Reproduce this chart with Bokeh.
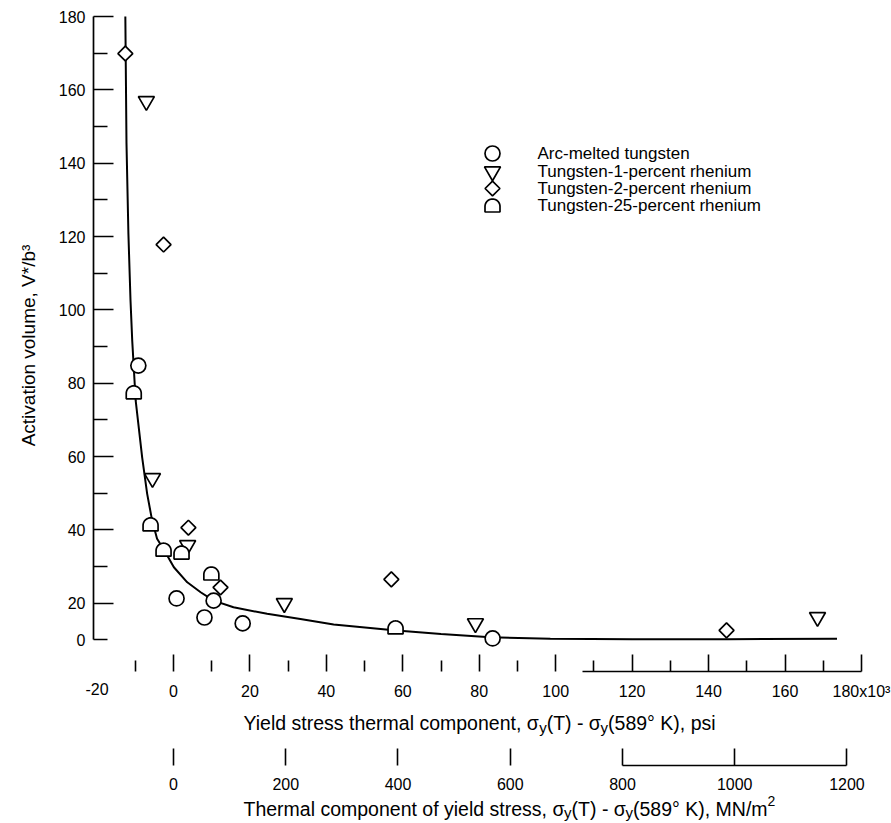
import numpy as np
from bokeh.plotting import figure
from bokeh.models import LinearAxis, Range1d, FixedTicker
from bokeh.core.properties import value
from bokeh.embed import file_html
from bokeh.resources import INLINE

# ---------------- data ----------------
fit_x = [-12.6, -12.3, -11.8, -11.25, -10.8, -9.9, -8.2, -6.9, -5.6, -4.3, -2.5, 0.1,
         3.6, 7.1, 10.5, 15.7, 24.5, 33.2, 41.9, 57.6, 70.0, 82.9, 98.6, 120.0, 145.0, 173.6]
fit_y = [180.0, 145.4, 120.8, 102.6, 91.6, 75.3, 59.8, 49.9, 42.6, 37.6, 34.6, 29.8,
         25.7, 23.0, 20.7, 18.9, 17.1, 15.7, 14.2, 12.6, 11.6, 10.7, 10.3, 10.2, 10.2, 10.3]

arc_x = [-9.2, 0.8, 8.1, 10.5, 18.1, 83.5]
arc_y = [84.8, 21.3, 16.1, 20.7, 14.5, 10.4]
w1_x = [-7.1, -5.5, 3.7, 29.0, 79.0, 168.5]
w1_y = [156.9, 54.1, 35.8, 20.0, 14.5, 16.2]
w2_x = [-12.6, -2.6, 3.9, 12.3, 57.0, 144.7]
w2_y = [169.9, 117.8, 40.6, 24.3, 26.5, 12.6]
w25_x = [-10.4, -6.0, -2.6, 2.1, 9.9, 58.1]
w25_y = [77.5, 41.5, 34.6, 33.8, 28.1, 13.4]

legend_labels = ["Arc-melted tungsten", "Tungsten-1-percent rhenium",
                 "Tungsten-2-percent rhenium", "Tungsten-25-percent rhenium"]

y_ticks = [20, 40, 60, 80, 100, 120, 140, 160, 180]
y_minor = [10, 30, 50, 70, 90, 110, 130, 150, 170]
x_ticks = [0, 20, 40, 60, 80, 100, 120, 140, 160, 180]
x_minor = [-10, 10, 30, 50, 70, 90, 110, 130, 150, 170]
mn_ticks = [0, 200, 400, 600, 800, 1000, 1200]

# ---------------- layout / style constants ----------------
W, H = 891, 823
KX = 3.822          # px per psi unit (x10^3)
KY = 3.667          # px per V*/b^3 unit
X_AT_0 = 173        # page x of psi = 0
Y_AT_180 = 16       # page y of V = 180
X0 = -X_AT_0 / KX
X1 = X0 + W / KX
Y1 = 180 + Y_AT_180 / KY
Y0 = Y1 - H / KY
MN_PER_KSI = 6.81
TICK_FONT = "Liberation Sans"
TICK_SIZE = "16px"
TEXT_FONT = "Liberation Sans"


def px2x(px):
    return X0 + px / KX


def py2y(py):
    return Y1 - py / KY


# approximate Arial / Liberation Sans advance widths (per 1000 em)
CW = {' ': 278, ',': 278, '(': 333, ')': 333, '-': 333, '/': 278, '\u00b0': 400,
      'A': 667, 'K': 667, 'M': 833, 'N': 722, 'T': 611, 'Y': 667, 'a': 556, 'c': 500,
      'd': 556, 'e': 556, 'f': 278, 'h': 556, 'i': 222, 'l': 222, 'm': 833, 'n': 556,
      'o': 556, 'p': 556, 'r': 333, 's': 500, 't': 278, 'u': 556, 'v': 500, 'y': 500,
      '\u03c3': 600}


def tw(s, size):
    return sum(CW.get(c, 556) for c in s) / 1000.0 * size


p = figure(width=W, height=H,
           x_range=Range1d(X0, X1), y_range=Range1d(Y0, Y1),
           output_backend="svg", toolbar_location=None,
           min_border=0, min_border_left=0, min_border_right=0,
           min_border_top=0, min_border_bottom=0)
p.xgrid.visible = False
p.ygrid.visible = False
p.outline_line_color = None
p.background_fill_color = "white"
p.border_fill_color = "white"
p.extra_x_ranges = {"mn": Range1d(X0 * MN_PER_KSI, X1 * MN_PER_KSI)}

Y_AX_X = px2x(93)
PSI_AX_Y = py2y(671)
MN_AX_Y = py2y(765)

NO_TICKS = dict(major_tick_in=0, major_tick_out=0, minor_tick_in=0, minor_tick_out=0)
LBL = dict(major_label_text_font=TICK_FONT, major_label_text_font_size=TICK_SIZE,
           major_label_text_color="black")

# ---- left axis (fixed at the left edge of the data area) ----
ya = p.yaxis[0]
ya.fixed_location = Y_AX_X
ya.bounds = (10, 180)
ya.ticker = FixedTicker(ticks=y_ticks, minor_ticks=y_minor)
ya.major_tick_in = 20
ya.major_tick_out = 0
ya.minor_tick_in = 14
ya.minor_tick_out = 0
ya.axis_line_width = 1.7
ya.major_tick_line_width = 1.7
ya.minor_tick_line_width = 1.7
ya.major_label_text_font = TICK_FONT
ya.major_label_text_font_size = TICK_SIZE
ya.major_label_text_color = "black"
ya.major_label_standoff = 8

# label "0" at the bottom of the left scale (no extra tick)
y0_lab = LinearAxis(fixed_location=Y_AX_X, ticker=FixedTicker(ticks=[10], minor_ticks=[]),
                    major_label_overrides={10: "0"}, axis_line_color=None,
                    major_label_standoff=8, **NO_TICKS, **LBL)
p.add_layout(y0_lab, "left")

# ---- psi axis ----
xa = p.xaxis[0]
xa.fixed_location = PSI_AX_Y
xa.ticker = FixedTicker(ticks=x_ticks, minor_ticks=x_minor)
xa.major_label_overrides = {180: "180x10\u00b3"}
xa.axis_line_color = None
xa.major_tick_in = 17
xa.major_tick_out = 0
xa.minor_tick_in = 11
xa.minor_tick_out = 0
xa.major_tick_line_width = 1.6
xa.minor_tick_line_width = 1.6
xa.major_label_text_font = TICK_FONT
xa.major_label_text_font_size = TICK_SIZE
xa.major_label_text_color = "black"
xa.major_label_standoff = 11

psi_line = LinearAxis(fixed_location=PSI_AX_Y, bounds=(107, 180),
                      ticker=FixedTicker(ticks=[], minor_ticks=[]),
                      axis_line_width=1.3, **NO_TICKS)
p.add_layout(psi_line, "below")

# "-20" end label of the psi scale (label only, no tick mark)
psi_end = LinearAxis(fixed_location=PSI_AX_Y, ticker=FixedTicker(ticks=[-20], minor_ticks=[]),
                     major_label_overrides={-20: "-20"},
                     axis_line_color=None, major_label_standoff=11, **NO_TICKS, **LBL)
p.add_layout(psi_end, "below")

mn_ax = LinearAxis(x_range_name="mn", fixed_location=MN_AX_Y,
                   ticker=FixedTicker(ticks=mn_ticks, minor_ticks=[]),
                   axis_line_color=None, major_tick_in=17, major_tick_out=0,
                   minor_tick_in=0, minor_tick_out=0, major_tick_line_width=1.6,
                   major_label_standoff=12, **LBL)
p.add_layout(mn_ax, "below")

mn_line = LinearAxis(x_range_name="mn", fixed_location=MN_AX_Y, bounds=(800, 1200),
                     ticker=FixedTicker(ticks=[], minor_ticks=[]),
                     axis_line_width=1.3, **NO_TICKS)
p.add_layout(mn_line, "below")

# ---- y-axis title (rotated text) ----
p.text(x=[px2x(28)], y=[py2y(345)], text=["Activation volume, V*/b\u00b3"],
       angle=np.pi / 2, text_font=value(TEXT_FONT), text_font_size=value("19px"),
       text_align="center", text_baseline="middle", text_color="black")


# ---- x-axis titles with subscripts ----
def draw_pieces(pieces, x_page, base_page):
    cur = x_page
    for txt, size, dy in pieces:
        p.text(x=[px2x(cur)], y=[py2y(base_page + dy)], text=[txt],
               text_font=value(TEXT_FONT), text_font_size=value(f"{size}px"),
               text_baseline="alphabetic", text_align="left", text_color="black")
        cur += tw(txt, size)


draw_pieces([("Yield stress thermal component, \u03c3", 19.5, 0), ("y", 15, 5),
             ("(T) - \u03c3", 19.5, 0), ("y", 15, 5), ("(589\u00b0 K), psi", 19.5, 0)], 243, 722)
draw_pieces([("Thermal component of yield stress, \u03c3", 19.5, 0), ("y", 15, 4),
             ("(T) - \u03c3", 19.5, 0), ("y", 15, 4), ("(589\u00b0 K), MN/m", 19.5, 0),
             ("2", 14, -8)], 243, 808)

# ---- curve ----
p.line(fit_x, fit_y, line_color="black", line_width=2)

# ---- markers ----
MK = dict(fill_color="white", line_color="black", line_width=1.7)
p.scatter(arc_x, arc_y, marker="circle", size=15, **MK)
p.scatter(w1_x, w1_y, marker="inverted_triangle", size=16, **MK)
p.scatter(w2_x, w2_y, marker="square", angle=np.pi / 4, size=10.5, **MK)

R, C, B = 7.5, 1.0, 6.5
th = np.linspace(np.pi, 0, 25)
shape_sx = np.concatenate([R * np.cos(th), [R, -R]])
shape_sy = np.concatenate([C - R * np.sin(th), [B, B]])


def dome_patches(xs, ys):
    return ([list(x + shape_sx / KX) for x in xs], [list(y - shape_sy / KY) for y in ys])


dxs, dys = dome_patches(w25_x, w25_y)
p.patches(dxs, dys, **MK)

# ---- legend (drawn manually so the dome marker can be shown) ----
LX = px2x(492)
LTX = px2x(537)
LY = [py2y(v) for v in (153, 171, 188, 205)]
p.scatter([LX], [LY[0]], marker="circle", size=15, **MK)
p.scatter([LX], [LY[1]], marker="inverted_triangle", size=16, **MK)
p.scatter([LX], [LY[2]], marker="square", angle=np.pi / 4, size=10.5, **MK)
lxs, lys = dome_patches([LX], [LY[3]])
p.patches(lxs, lys, **MK)
p.text(x=[LTX] * 4, y=LY, text=legend_labels, text_font=value(TEXT_FONT),
       text_font_size=value("17px"), text_baseline="middle", text_align="left",
       text_color="black")

open("out.html", "w").write(file_html(p, INLINE))
